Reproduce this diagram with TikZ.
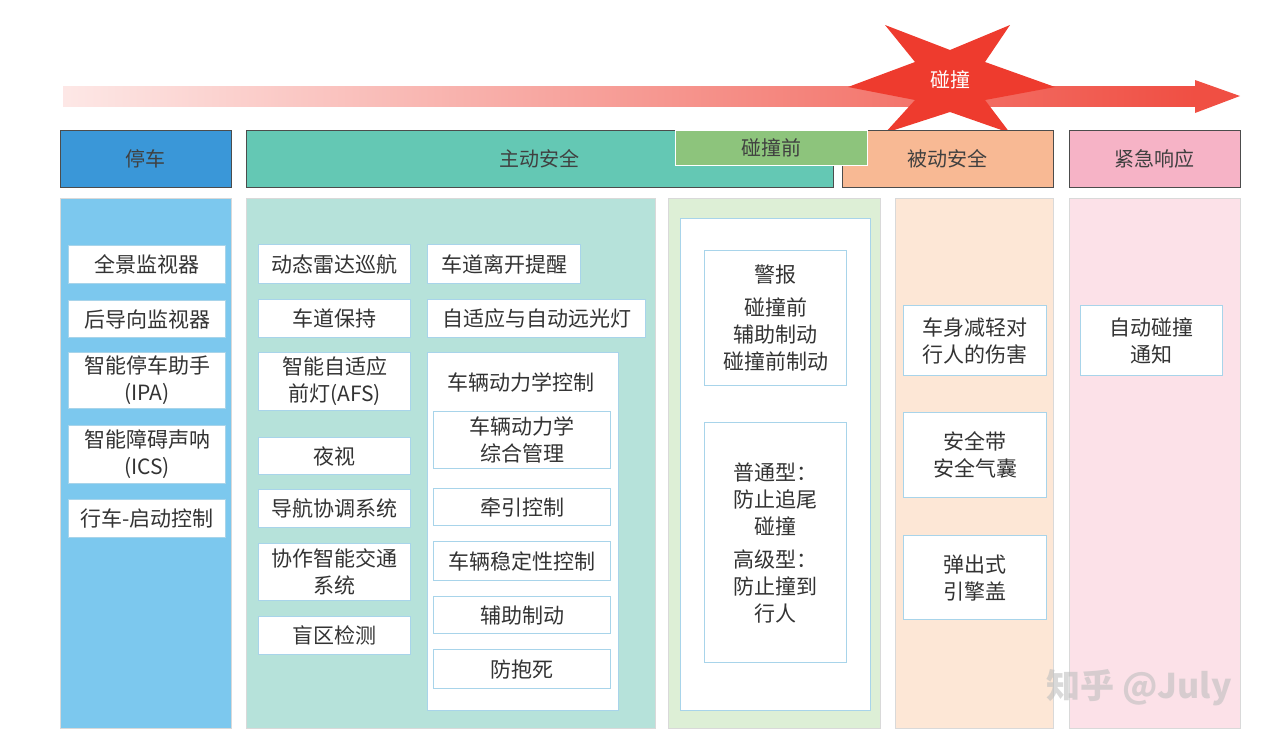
\documentclass[tikz,border=0pt]{standalone}
\usepackage{fontspec}
\setmainfont{Noto Sans CJK SC}
\begin{document}
\begin{tikzpicture}[x=1pt,y=-1pt,
  hdr/.style={draw=black!70,line width=0.8pt,font=\fontsize{20}{22}\selectfont,text=black!75},
  col/.style={draw=black!15,line width=0.6pt},
  item/.style={draw=bBox,line width=1.2pt,fill=white,align=center,font=\fontsize{21}{27}\selectfont,text=black!80,inner sep=0pt},
]
\definecolor{cBlue}{HTML}{3A97D8}\definecolor{cTeal}{HTML}{64C8B4}
\definecolor{cGreen}{HTML}{8DC47C}\definecolor{cOrange}{HTML}{F8B994}
\definecolor{cPink}{HTML}{F6B3C6}\definecolor{lBlue}{HTML}{7CC8EE}
\definecolor{lTeal}{HTML}{B6E2DA}\definecolor{lGreen}{HTML}{DDEFD6}
\definecolor{lOrange}{HTML}{FDE7D6}\definecolor{lPink}{HTML}{FCE1E8}
\definecolor{bRed}{HTML}{EE3B2E}\definecolor{bBox}{HTML}{A8D4EA}
\useasboundingbox (0,0) rectangle (1273,745);
% arrow
\shade[left color=bRed!12,right color=bRed!90] (63,86) rectangle (1197,106);
\fill[bRed!90] (1195,80) -- (1240,96) -- (1195,113) -- cycle;
% star
\fill[bRed] (848,87) -- (915,62) -- (885,25) -- (950,50) -- (1010,25) -- (985,62) -- (1055,87) -- (985,100) -- (1010,133) -- (950,112) -- (885,133) -- (915,100) -- cycle;
\node[text=white,font=\fontsize{20}{22}\selectfont] (crash) at (950,80) {碰撞};
% headers
\node[hdr,fill=cBlue,minimum width=171,minimum height=57,anchor=north west] (h1) at (60,130) {停车};
\node[hdr,fill=cTeal,minimum width=587,minimum height=57,anchor=north west] (h2) at (246,130) {主动安全};
\node[hdr,fill=cOrange,minimum width=211,minimum height=57,anchor=north west] (h4) at (842,130) {被动安全};
\node[hdr,fill=cPink,minimum width=171,minimum height=57,anchor=north west] (h5) at (1069,130) {紧急响应};
\node[hdr,draw=white,fill=cGreen,minimum width=192,minimum height=35,anchor=north west] (h3) at (675,130) {碰撞前};
% columns
\fill[lBlue] (60,198) rectangle (231,728);
\fill[lTeal] (246,198) rectangle (655,728);
\fill[lGreen] (668,198) rectangle (880,728);
\fill[lOrange] (895,198) rectangle (1053,728);
\fill[lPink] (1069,198) rectangle (1240,728);
\draw[col] (60,198) rectangle (231,728) (246,198) rectangle (655,728) (668,198) rectangle (880,728) (895,198) rectangle (1053,728) (1069,198) rectangle (1240,728);
\newcommand{\bx}[6]{\node[item,minimum width=#3-#2,minimum height=#5-#4,anchor=north west] (#1) at (#2,#4) {#6};}
% col1
\bx{a1}{68}{225}{245}{283}{全景监视器}
\bx{a2}{68}{225}{300}{337}{后导向监视器}
\bx{a3}{68}{225}{352}{408}{智能停车助手\\(IPA)}
\bx{a4}{68}{225}{425}{483}{智能障碍声呐\\(ICS)}
\bx{a5}{68}{225}{499}{537}{行车-启动控制}
% col2
\bx{b1}{258}{410}{244}{283}{动态雷达巡航}
\bx{b2}{258}{410}{299}{337}{车道保持}
\bx{b3}{258}{410}{352}{410}{智能自适应\\前灯(AFS)}
\bx{b4}{258}{410}{437}{474}{夜视}
\bx{b5}{258}{410}{489}{527}{导航协调系统}
\bx{b6}{258}{410}{543}{600}{协作智能交通\\系统}
\bx{b7}{258}{410}{616}{654}{盲区检测}
\bx{c1}{427}{580}{244}{283}{车道离开提醒}
\bx{c2}{427}{645}{299}{337}{自适应与自动远光灯}
\node[item,minimum width=191,minimum height=358,anchor=north west] (vd) at (427,352) {};
\node[font=\fontsize{21}{25}\selectfont,text=black!80] (vdt) at (521,382) {车辆动力学控制};
\bx{d1}{433}{610}{411}{468}{车辆动力学\\综合管理}
\bx{d2}{433}{610}{488}{525}{牵引控制}
\bx{d3}{433}{610}{541}{580}{车辆稳定性控制}
\bx{d4}{433}{610}{596}{633}{辅助制动}
\bx{d5}{433}{610}{649}{688}{防抱死}
% col3
\node[item,minimum width=190,minimum height=492,anchor=north west] (pc) at (680,218) {};
\bx{e1}{704}{846}{250}{385}{警报\\[6pt]碰撞前\\辅助制动\\碰撞前制动}
\bx{e2}{704}{846}{422}{662}{普通型：\\防止追尾\\碰撞\\[6pt]高级型：\\防止撞到\\行人}
% col4
\bx{f1}{903}{1046}{305}{375}{车身减轻对\\行人的伤害}
\bx{f2}{903}{1046}{412}{497}{安全带\\安全气囊}
\bx{f3}{903}{1046}{535}{619}{弹出式\\引擎盖}
% col5
\bx{g1}{1080}{1222}{305}{375}{自动碰撞\\通知}
% watermark
\node[font=\fontsize{34}{36}\selectfont\bfseries,text=black!25,opacity=0.6] (wm) at (1139,688) {知乎 @July};
\end{tikzpicture}
\end{document}
